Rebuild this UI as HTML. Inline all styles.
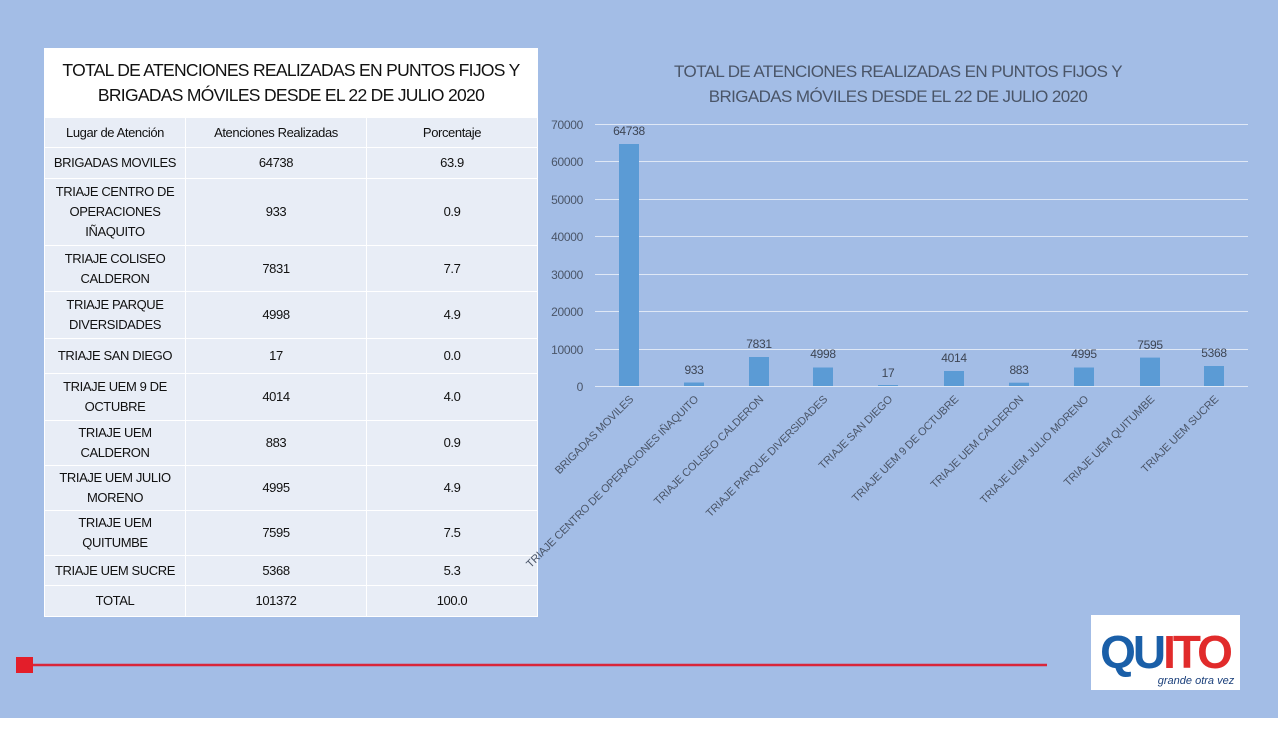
<!DOCTYPE html>
<html><head><meta charset="utf-8"><style>
body{margin:0;width:1280px;height:738px;background:#fff;position:relative;overflow:hidden;font-family:"Liberation Sans",sans-serif}
#bg{position:absolute;left:0;top:0;width:1278px;height:718px;background:#a3bde6}
#tbl{position:absolute;left:44px;top:48px;width:494px;border-collapse:collapse;table-layout:fixed;background:#e8edf6;font-size:13px;letter-spacing:-0.4px;color:#111}
#tbl td{border:1px solid #fff;text-align:center;padding:0 2px;line-height:20px;overflow:hidden}
#tbl .t{background:#fff;font-size:17.5px;letter-spacing:-0.7px;line-height:25px;height:68px;white-space:nowrap;padding:0}
</style></head><body>
<div id="bg"></div>
<table id="tbl">
<colgroup><col style="width:141px"><col style="width:181px"><col></colgroup>
<tr><td colspan="3" class="t">TOTAL DE ATENCIONES REALIZADAS EN PUNTOS FIJOS Y<br>BRIGADAS MÓVILES DESDE EL 22 DE JULIO 2020</td></tr>
<tr style="height:30px"><td>Lugar de Atención</td><td>Atenciones Realizadas</td><td>Porcentaje</td></tr>
<tr style="height:31px"><td style="white-space:nowrap">BRIGADAS MOVILES</td><td>64738</td><td>63.9</td></tr>
<tr style="height:67px"><td>TRIAJE CENTRO DE OPERACIONES IÑAQUITO</td><td>933</td><td>0.9</td></tr>
<tr style="height:46px"><td>TRIAJE COLISEO CALDERON</td><td>7831</td><td>7.7</td></tr>
<tr style="height:47px"><td>TRIAJE PARQUE DIVERSIDADES</td><td>4998</td><td>4.9</td></tr>
<tr style="height:35px"><td>TRIAJE SAN DIEGO</td><td>17</td><td>0.0</td></tr>
<tr style="height:47px"><td>TRIAJE UEM 9 DE OCTUBRE</td><td>4014</td><td>4.0</td></tr>
<tr style="height:45px"><td>TRIAJE UEM CALDERON</td><td>883</td><td>0.9</td></tr>
<tr style="height:45px"><td>TRIAJE UEM JULIO MORENO</td><td>4995</td><td>4.9</td></tr>
<tr style="height:45px"><td>TRIAJE UEM QUITUMBE</td><td>7595</td><td>7.5</td></tr>
<tr style="height:30px"><td style="white-space:nowrap">TRIAJE UEM SUCRE</td><td>5368</td><td>5.3</td></tr>
<tr style="height:31px"><td>TOTAL</td><td>101372</td><td>100.0</td></tr>
</table>
<svg style="position:absolute;left:0;top:0" width="1280" height="738" font-family="Liberation Sans, sans-serif">
<g fill="#4a5568" font-size="17" text-anchor="middle" letter-spacing="-0.6">
<text x="898" y="77">TOTAL DE ATENCIONES REALIZADAS EN PUNTOS FIJOS Y</text>
<text x="898" y="102">BRIGADAS MÓVILES DESDE EL 22 DE JULIO 2020</text>
</g>
<g stroke="#dfe8f6" stroke-width="1">
<line x1="595" x2="1248" y1="124.5" y2="124.5"/><line x1="595" x2="1248" y1="161.5" y2="161.5"/>
<line x1="595" x2="1248" y1="199.5" y2="199.5"/><line x1="595" x2="1248" y1="236.5" y2="236.5"/>
<line x1="595" x2="1248" y1="274.5" y2="274.5"/><line x1="595" x2="1248" y1="311.5" y2="311.5"/>
<line x1="595" x2="1248" y1="349.5" y2="349.5"/><line x1="595" x2="1248" y1="386.5" y2="386.5"/>
</g>
<g fill="#4a5568" font-size="12" text-anchor="end" letter-spacing="-0.3">
<text x="583" y="129">70000</text><text x="583" y="166">60000</text><text x="583" y="204">50000</text>
<text x="583" y="241">40000</text><text x="583" y="279">30000</text><text x="583" y="316">20000</text>
<text x="583" y="354">10000</text><text x="583" y="391">0</text>
</g>
<g fill="#5b9bd5">
<rect x="619" y="144" width="20" height="242"/>
<rect x="684" y="382.5" width="20" height="3.5"/>
<rect x="749" y="357" width="20" height="29"/>
<rect x="813" y="367.5" width="20" height="18.5"/>
<rect x="878" y="385" width="20" height="1"/>
<rect x="944" y="371" width="20" height="15"/>
<rect x="1009" y="382.7" width="20" height="3.3"/>
<rect x="1074" y="367.5" width="20" height="18.5"/>
<rect x="1140" y="357.6" width="20" height="28.4"/>
<rect x="1204" y="366" width="20" height="20"/>
</g>
<g fill="#3d4554" font-size="12" text-anchor="middle" letter-spacing="-0.3">
<text x="629" y="135">64738</text><text x="694" y="374">933</text><text x="759" y="348">7831</text>
<text x="823" y="358">4998</text><text x="888" y="377">17</text><text x="954" y="362">4014</text>
<text x="1019" y="374">883</text><text x="1084" y="358">4995</text><text x="1150" y="349">7595</text>
<text x="1214" y="357">5368</text>
</g>
<g fill="#4a5568" font-size="11" text-anchor="end" letter-spacing="-0.2">
<text transform="translate(634,400) rotate(-45)">BRIGADAS MOVILES</text>
<text transform="translate(699,400) rotate(-45)">TRIAJE CENTRO DE OPERACIONES IÑAQUITO</text>
<text transform="translate(764,400) rotate(-45)">TRIAJE COLISEO CALDERON</text>
<text transform="translate(828,400) rotate(-45)">TRIAJE PARQUE DIVERSIDADES</text>
<text transform="translate(893,400) rotate(-45)">TRIAJE SAN DIEGO</text>
<text transform="translate(959,400) rotate(-45)">TRIAJE UEM 9 DE OCTUBRE</text>
<text transform="translate(1024,400) rotate(-45)">TRIAJE UEM CALDERON</text>
<text transform="translate(1089,400) rotate(-45)">TRIAJE UEM JULIO MORENO</text>
<text transform="translate(1155,400) rotate(-45)">TRIAJE UEM QUITUMBE</text>
<text transform="translate(1219,400) rotate(-45)">TRIAJE UEM SUCRE</text>
</g>
<line x1="30" x2="1047" y1="665" y2="665" stroke="#d9263a" stroke-width="2.5"/>
<rect x="16" y="657" width="17" height="16" fill="#e31e2a"/>
<rect x="1091" y="615" width="149" height="75" fill="#fff"/>
<text x="1165" y="668" font-size="46" font-weight="bold" text-anchor="middle" fill="#1a5fa8" letter-spacing="-3">QU<tspan fill="#e12b2b">IT</tspan><tspan fill="#e12b2b">O</tspan></text>
<text x="1196" y="684" font-size="11" font-style="italic" text-anchor="middle" fill="#1a3f7a">grande otra vez</text>
</svg>
</body></html>
